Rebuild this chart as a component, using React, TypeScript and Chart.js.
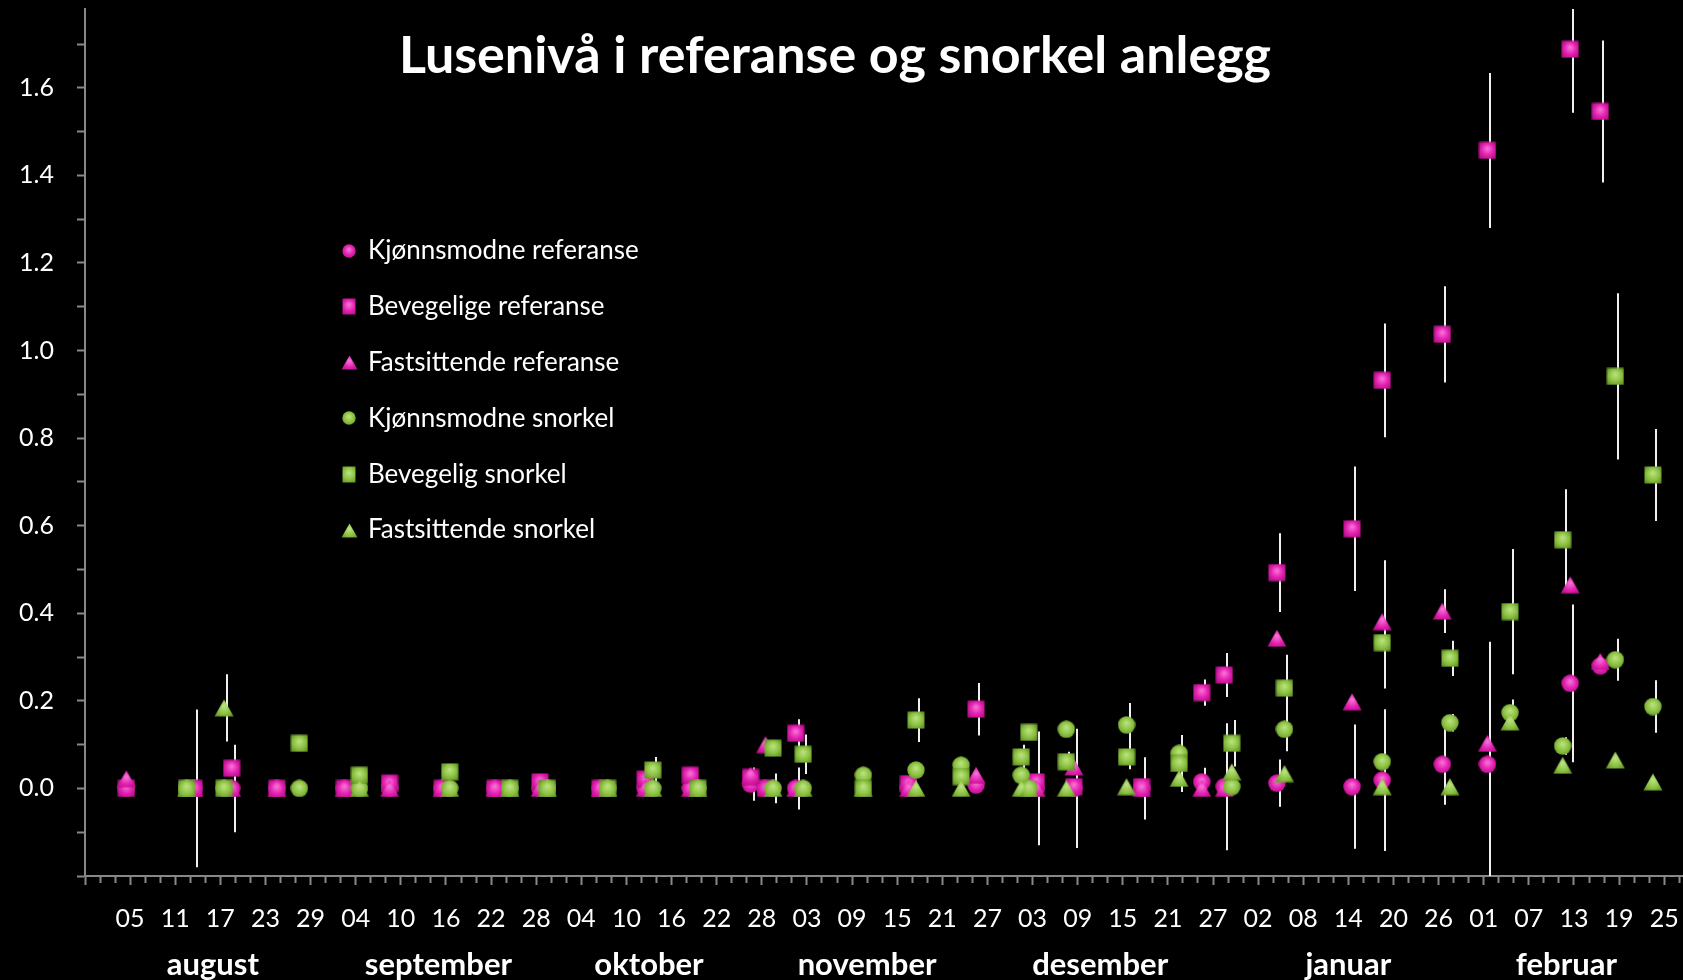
import React, { useEffect, useRef } from 'react';
import { Chart, registerables } from 'chart.js';

Chart.register(...registerables);

const chartTitle = 'Lusenivå i referanse og snorkel anlegg';
const axisStartDate = '2012-07-30';

const monthNames = ['august', 'september', 'oktober', 'november', 'desember', 'januar', 'februar'];
const monthLabelDates = ['2012-08-16', '2012-09-15', '2012-10-13', '2012-11-11', '2012-12-12', '2013-01-14', '2013-02-12'];

// Referanse sampling dates and values (mean lice per fish, with SD)
const refDates = [
  '2012-08-04', '2012-08-13', '2012-08-18', '2012-08-24', '2012-09-02', '2012-09-08', '2012-09-15',
  '2012-09-22', '2012-09-28', '2012-10-06', '2012-10-12', '2012-10-18', '2012-10-26', '2012-10-28',
  '2012-11-01', '2012-11-16', '2012-11-25', '2012-12-03', '2012-12-08', '2012-12-17', '2012-12-25',
  '2012-12-28', '2013-01-04', '2013-01-14', '2013-01-18', '2013-01-26', '2013-02-01', '2013-02-12',
  '2013-02-16',
];
const kjonnsmodneRef = [0, 0, 0, 0, 0, 0, 0, 0, 0, 0, 0, 0, 0.01, 0, 0, 0, 0.008, 0, 0, 0, 0.015, 0.004, 0.012, 0.004, 0.019, 0.055, 0.055, 0.24, 0.28];
const kjonnsmodneRefSd = [0, 0.18, 0.1, 0, 0, 0, 0, 0, 0, 0, 0, 0, 0.038, 0, 0.048, 0, 0, 0.13, 0.136, 0.071, 0.032, 0.145, 0.054, 0.142, 0.162, 0.092, 0.28, 0.18, 0];
const bevegeligeRef = [0, 0, 0.046, 0, 0, 0.012, 0, 0, 0.015, 0, 0.021, 0.03, 0.025, 0, 0.126, 0.011, 0.181, 0.015, 0.004, 0.004, 0.219, 0.259, 0.493, 0.593, 0.932, 1.037, 1.457, 1.688, 1.546];
const bevegeligeRefSd = [0, 0, 0, 0, 0, 0, 0, 0, 0, 0, 0, 0, 0, 0, 0.032, 0, 0.06, 0, 0, 0, 0.03, 0.05, 0.09, 0.142, 0.13, 0.11, 0.177, 0.145, 0.162];
const fastsittendeRef = [0.022, 0, 0, 0, 0, 0, 0, 0, 0, 0, 0, 0, 0.03, 0.1, 0, 0, 0.03, 0, 0.049, 0, 0, 0, 0.343, 0.198, 0.381, 0.405, 0.103, 0.465, 0.29];
const fastsittendeRefSd = [0, 0, 0, 0, 0, 0, 0, 0, 0, 0, 0, 0, 0, 0, 0, 0, 0, 0, 0, 0, 0, 0, 0, 0, 0.14, 0.05, 0, 0, 0];

// Snorkel sampling dates and values
const snorkelDates = [
  '2012-08-12', '2012-08-17', '2012-08-27', '2012-09-04', '2012-09-16', '2012-09-24', '2012-09-29',
  '2012-10-07', '2012-10-13', '2012-10-19', '2012-10-29', '2012-11-02', '2012-11-10', '2012-11-17',
  '2012-11-23', '2012-12-01', '2012-12-02', '2012-12-07', '2012-12-15', '2012-12-22', '2012-12-29',
  '2013-01-05', '2013-01-18', '2013-01-27', '2013-02-04', '2013-02-11', '2013-02-18', '2013-02-23',
];
const kjonnsmodneSn = [0, 0, 0, 0, 0, 0, 0, 0, 0, 0, 0, 0, 0.03, 0.042, 0.053, 0.03, 0, 0.135, 0.145, 0.08, 0.004, 0.135, 0.061, 0.15, 0.173, 0.097, 0.294, 0.187];
const kjonnsmodneSnSd = [0, 0, 0, 0, 0, 0, 0, 0, 0, 0, 0.034, 0, 0, 0, 0, 0, 0, 0, 0.05, 0, 0, 0.05, 0, 0.02, 0.03, 0.02, 0.048, 0.06];
const bevegeligSn = [0, 0, 0.103, 0.03, 0.038, 0, 0, 0, 0.042, 0, 0.092, 0.078, 0, 0.156, 0.027, 0.072, 0.128, 0.061, 0.072, 0.057, 0.103, 0.229, 0.333, 0.297, 0.404, 0.568, 0.941, 0.716];
const bevegeligSnSd = [0, 0, 0, 0, 0.005, 0, 0, 0, 0.03, 0, 0, 0.045, 0, 0.05, 0, 0.028, 0, 0.023, 0.028, 0.065, 0.053, 0.076, 0.105, 0.04, 0.143, 0.115, 0.19, 0.105];
const fastsittendeSn = [0, 0.184, null, 0, 0, 0, 0, 0, 0, 0, 0, 0, 0, 0, 0, 0, 0, 0, 0.004, 0.023, 0.038, 0.034, 0.004, 0.004, 0.152, 0.053, 0.065, 0.015];
const fastsittendeSnSd = [0, 0.077, 0, 0, 0, 0, 0, 0, 0, 0, 0, 0, 0, 0, 0, 0, 0, 0, 0, 0, 0, 0, 0, 0, 0, 0, 0, 0];

const PINK = { base: '#E21FB0', light: '#FA78D9', dark: '#A90E7C' };
const GREEN = { base: '#8DC243', light: '#BDE584', dark: '#5C8C24' };
const AXIS = '#888888';
const FONT = 'Lato';

const DAY_MS = 86400000;
const startMs = Date.parse(axisStartDate);
const dayOf = (s: string) => (Date.parse(s) - startMs) / DAY_MS;

function points(dates: string[], vals: (number | null)[], sds: number[]) {
  return dates
    .map((d, i) => ({ x: dayOf(d) + 0.5, y: vals[i], sd: sds[i] }))
    .filter((p) => p.y !== null);
}

type Pal = { base: string; light: string; dark: string };

// Shaded marker image (Excel-like 3D look)
function makeMarker(shape: string, pal: Pal, w: number, h: number): HTMLCanvasElement {
  const c = document.createElement('canvas');
  c.width = w;
  c.height = h;
  const g = c.getContext('2d')!;
  const grad = g.createRadialGradient(w * 0.5, h * 0.38, 0, w * 0.5, h * 0.5, Math.max(w, h) * 0.62);
  grad.addColorStop(0, pal.light);
  grad.addColorStop(0.55, pal.base);
  grad.addColorStop(1, pal.dark);
  g.fillStyle = grad;
  g.beginPath();
  if (shape === 'circle') {
    g.arc(w / 2, h / 2, Math.min(w, h) / 2 - 0.3, 0, Math.PI * 2);
  } else if (shape === 'rect') {
    g.rect(0.5, 0.5, w - 1, h - 1);
  } else {
    g.moveTo(w / 2, 0.5);
    g.lineTo(w - 0.5, h - 0.5);
    g.lineTo(0.5, h - 0.5);
    g.closePath();
  }
  g.fill();
  return c;
}

export default function App() {
  const ref = useRef<HTMLCanvasElement>(null);

  useEffect(() => {
    const canvas = ref.current;
    if (!canvas) return;

    const size = (shape: string) => (shape === 'circle' ? [18, 18] : shape === 'rect' ? [18, 18] : [20, 18]);
    const legendSize = (shape: string) => (shape === 'circle' ? [14, 14] : shape === 'rect' ? [14, 17] : [17, 15]);

    const series = [
      { label: 'Kjønnsmodne referanse', data: points(refDates, kjonnsmodneRef, kjonnsmodneRefSd), pal: PINK, shape: 'circle' },
      { label: 'Bevegelige referanse', data: points(refDates, bevegeligeRef, bevegeligeRefSd), pal: PINK, shape: 'rect' },
      { label: 'Fastsittende referanse', data: points(refDates, fastsittendeRef, fastsittendeRefSd), pal: PINK, shape: 'triangle' },
      { label: 'Kjønnsmodne snorkel', data: points(snorkelDates, kjonnsmodneSn, kjonnsmodneSnSd), pal: GREEN, shape: 'circle' },
      { label: 'Bevegelig snorkel', data: points(snorkelDates, bevegeligSn, bevegeligSnSd), pal: GREEN, shape: 'rect' },
      { label: 'Fastsittende snorkel', data: points(snorkelDates, fastsittendeSn, fastsittendeSnSd), pal: GREEN, shape: 'triangle' },
    ].map((s) => {
      const [w, h] = size(s.shape);
      const [lw, lh] = legendSize(s.shape);
      return { ...s, img: makeMarker(s.shape, s.pal, w, h), legendImg: makeMarker(s.shape, s.pal, lw, lh), r: w / 2 };
    });

    const X_MAX = 212.5;

    const background = {
      id: 'bg',
      beforeDraw(chart: any) {
        const { ctx, width, height } = chart;
        ctx.save();
        ctx.fillStyle = '#000';
        ctx.fillRect(0, 0, width, height);
        ctx.restore();
      },
    };

    const errorBars = {
      id: 'errorBars',
      beforeDatasetsDraw(chart: any) {
        const { ctx, chartArea, scales } = chart;
        const xs = scales.x;
        const ys = scales.y;
        ctx.save();
        ctx.beginPath();
        ctx.rect(chartArea.left, chartArea.top, chartArea.right - chartArea.left, chartArea.bottom - chartArea.top);
        ctx.clip();
        ctx.strokeStyle = '#F0F0F0';
        ctx.lineWidth = 2;
        chart.data.datasets.forEach((ds: any) => {
          ds.data.forEach((p: any) => {
            if (!p.sd) return;
            const px = Math.round(xs.getPixelForValue(p.x)) + 3;
            ctx.beginPath();
            ctx.moveTo(px, ys.getPixelForValue(p.y + p.sd));
            ctx.lineTo(px, ys.getPixelForValue(p.y - p.sd));
            ctx.stroke();
          });
        });
        ctx.restore();
      },
    };

    const titleAndLegend = {
      id: 'titleAndLegend',
      afterDraw(chart: any) {
        const { ctx } = chart;
        ctx.save();
        ctx.fillStyle = '#FFFFFF';
        ctx.font = `bold 52px ${FONT}`;
        ctx.textAlign = 'center';
        ctx.textBaseline = 'alphabetic';
        ctx.fillText(chartTitle, 835, 73);

        ctx.font = `26px ${FONT}`;
        ctx.textAlign = 'left';
        ctx.textBaseline = 'middle';
        series.forEach((s, i) => {
          const y = 251 + i * 55.8;
          const im = s.legendImg;
          ctx.drawImage(im, Math.round(349 - im.width / 2), Math.round(y - im.height / 2));
          ctx.fillStyle = '#FFFFFF';
          ctx.fillText(s.label, 368, y);
        });
        ctx.restore();
      },
    };

    const dayLabel = (v: number) => {
      const d = new Date(startMs + v * DAY_MS).getUTCDate();
      return d < 10 ? `0${d}` : `${d}`;
    };

    const chart = new Chart(canvas, {
      type: 'scatter',
      data: {
        datasets: series.map((s, i) => ({
          label: s.label,
          data: s.data as any,
          xAxisID: 'x',
          yAxisID: 'y',
          pointStyle: s.img as any,
          pointRadius: s.r,
          pointHoverRadius: s.r,
          backgroundColor: s.pal.base,
          borderColor: s.pal.base,
          borderWidth: 0,
          order: series.length - 1 - i,
        })),
      },
      options: {
        animation: false,
        responsive: false,
        devicePixelRatio: 1,
        events: [],
        layout: { padding: { top: 9, left: 0, right: 0, bottom: 0 }, autoPadding: false },
        plugins: {
          legend: { display: false },
          tooltip: { enabled: false },
          title: { display: false },
        },
        scales: {
          x: {
            type: 'linear',
            position: 'bottom',
            weight: 0,
            min: 0,
            max: X_MAX,
            afterBuildTicks: (s: any) => {
              const t = [];
              for (let d = 0; d <= X_MAX; d += 2) t.push({ value: d });
              s.ticks = t;
            },
            afterFit: (s: any) => {
              s.height = 62;
              s.paddingLeft = 0;
              s.paddingRight = 0;
            },
            ticks: {
              autoSkip: false,
              maxRotation: 0,
              minRotation: 0,
              color: '#FFFFFF',
              font: { family: FONT, size: 25 },
              padding: 19,
              callback: (v: any) => (v > 0 && v % 6 === 0 ? dayLabel(v) : ''),
            },
            grid: {
              display: true,
              drawOnChartArea: false,
              drawTicks: true,
              tickLength: 9,
              tickWidth: 2,
              tickColor: AXIS,
              tickBorderDash: (ctx: any) => (ctx.tick && ctx.tick.value % 6 === 0 ? [] : [6, 30]),
            } as any,
            border: { display: true, color: AXIS, width: 2 },
          },
          xm: {
            type: 'linear',
            position: 'bottom',
            axis: 'x',
            weight: 1,
            min: 0,
            max: X_MAX,
            afterBuildTicks: (s: any) => {
              s.ticks = monthLabelDates.map((d) => ({ value: dayOf(d) }));
            },
            afterFit: (s: any) => {
              s.height = 42;
              s.paddingLeft = 0;
              s.paddingRight = 0;
            },
            ticks: {
              autoSkip: false,
              maxRotation: 0,
              minRotation: 0,
              color: '#FFFFFF',
              font: { family: FONT, size: 31, weight: 'bold' },
              padding: 8,
              callback: (_v: any, i: number) => monthNames[i],
            },
            grid: { display: false, drawTicks: false },
            border: { display: false },
          },
          y: {
            type: 'linear',
            position: 'left',
            min: -0.2,
            max: 1.78,
            afterBuildTicks: (s: any) => {
              const t = [];
              for (let k = -4; k <= 35; k++) t.push({ value: k / 20 });
              s.ticks = t;
            },
            afterFit: (s: any) => {
              s.width = 85;
              s.paddingTop = 0;
              s.paddingBottom = 0;
            },
            ticks: {
              color: '#FFFFFF',
              font: { family: FONT, size: 25 },
              padding: 23,
              callback: (v: any) => {
                const k = Math.round(v * 20);
                return k >= 0 && k % 4 === 0 && k <= 32 ? (k / 20).toFixed(1) : '';
              },
            },
            grid: {
              display: true,
              drawOnChartArea: false,
              drawTicks: true,
              tickLength: 8,
              tickWidth: 2,
              tickColor: AXIS,
            },
            border: { display: true, color: AXIS, width: 2 },
          },
        },
      } as any,
      plugins: [background, errorBars, titleAndLegend],
    });

    return () => chart.destroy();
  }, []);

  return (
    <div style={{ position: 'absolute', left: 0, top: 0, width: 1683, height: 980, background: '#000' }}>
      <canvas ref={ref} width={1683} height={980} style={{ display: 'block', width: 1683, height: 980 }} />
    </div>
  );
}
